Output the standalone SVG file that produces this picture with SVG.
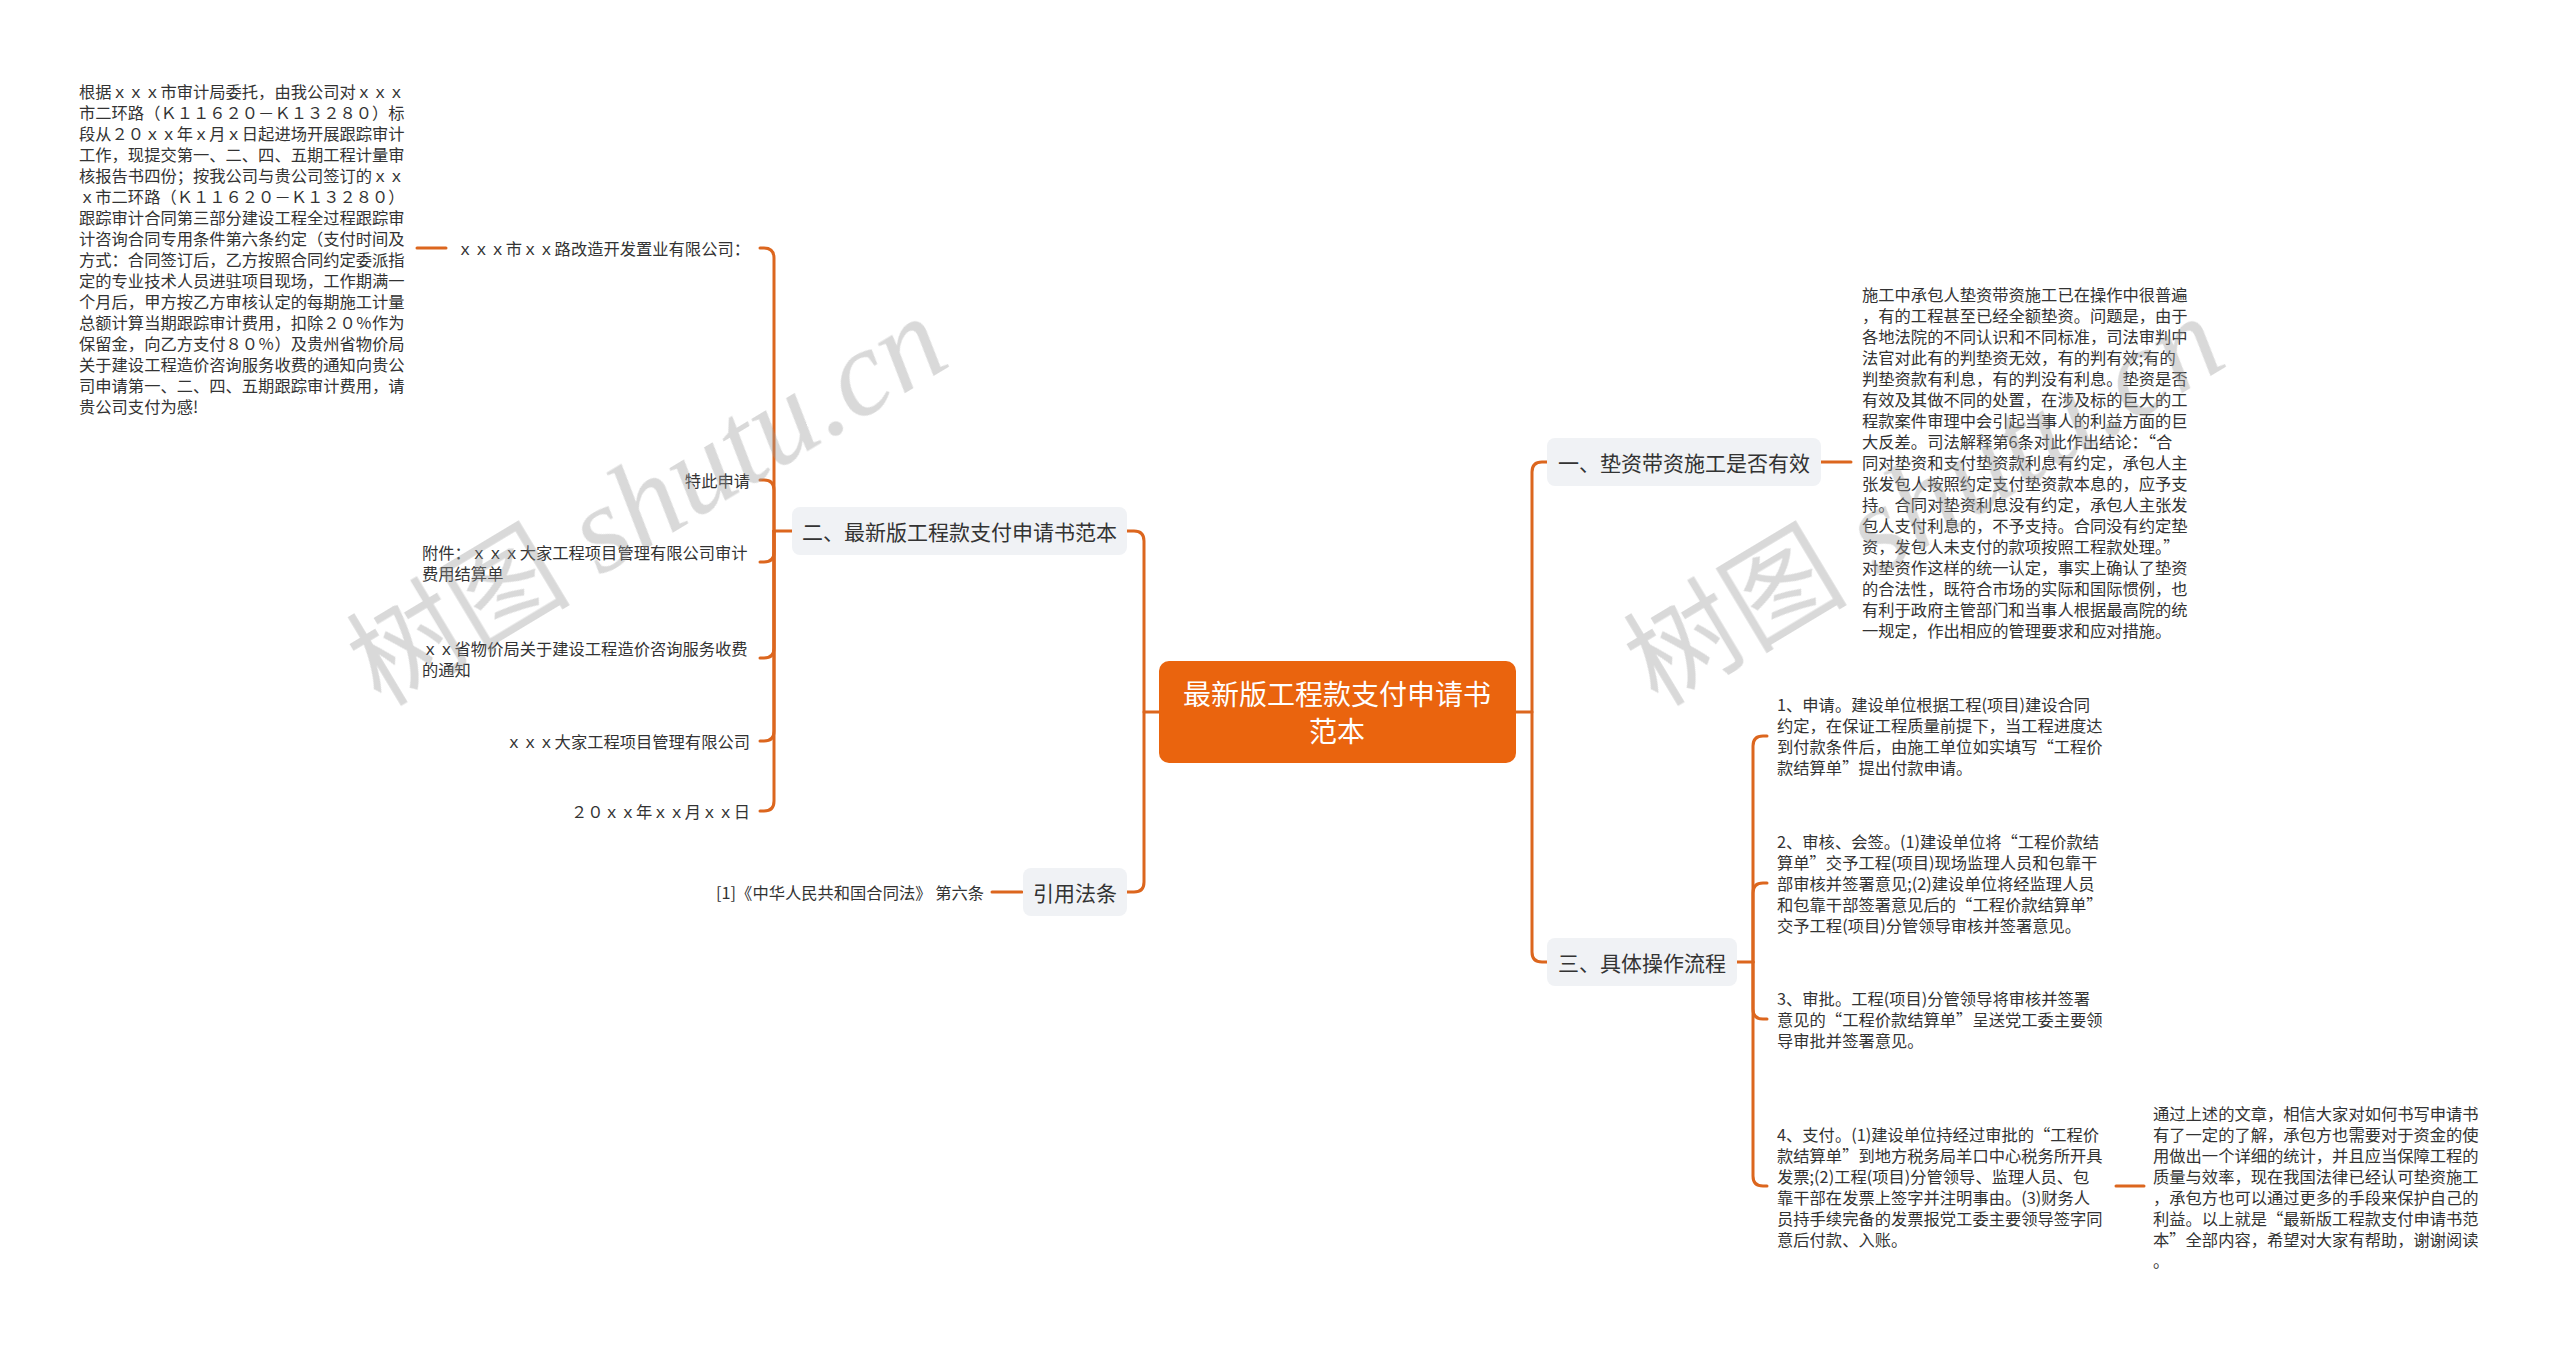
<svg xmlns="http://www.w3.org/2000/svg" width="2560" height="1350" viewBox="0 0 2560 1350">
<style>
.conn{fill:none;stroke:#DC661E;stroke-width:3;stroke-linecap:round;stroke-linejoin:round}
.t{font-family:"Noto Sans CJK SC","Noto Sans",sans-serif;font-size:16.3px;fill:#333;dominant-baseline:central}
.l1{font-family:"Noto Sans CJK SC","Noto Sans",sans-serif;font-size:21px;fill:#333;dominant-baseline:central;text-anchor:middle}
.box{fill:#F0F2F5}
.root{fill:#EA640E}
.rt{font-family:"Noto Sans CJK SC","Noto Sans",sans-serif;font-size:28px;fill:#fff;dominant-baseline:central;text-anchor:middle}
.end{text-anchor:end}
.wm{fill:#9a9a9a;opacity:0.38}
.wmc{font-family:"Noto Sans CJK SC",sans-serif;font-size:112px}
.wml{font-family:"Liberation Serif",serif;font-style:italic;font-size:123px}
</style>
<rect width="2560" height="1350" fill="#fff"/>
<g id="connectors">
<path class="conn" d="M1159,712 H1144 V541 Q1144,531 1134,531 H1127"/>
<path class="conn" d="M1144,712 V882 Q1144,892 1134,892 H1127"/>
<path class="conn" d="M1516,712 H1532 V472 Q1532,462 1542,462 H1547"/>
<path class="conn" d="M1532,712 V952 Q1532,962 1542,962 H1547"/>
<path class="conn" d="M792,531 H774"/>
<path class="conn" d="M774,531 V258 Q774,248 764,248 H760"/>
<path class="conn" d="M774,531 V490 Q774,480 764,480 H760"/>
<path class="conn" d="M774,531 V552 Q774,562 764,562 H760"/>
<path class="conn" d="M774,531 V648 Q774,658 764,658 H760"/>
<path class="conn" d="M774,531 V731 Q774,741 764,741 H760"/>
<path class="conn" d="M774,531 V801 Q774,811 764,811 H760"/>
<path class="conn" d="M446,248 H417"/>
<path class="conn" d="M1022,892 H992"/>
<path class="conn" d="M1821,462 H1851"/>
<path class="conn" d="M1737,962 H1753"/>
<path class="conn" d="M1753,962 V746 Q1753,736 1763,736 H1767"/>
<path class="conn" d="M1753,962 V893 Q1753,883 1763,883 H1767"/>
<path class="conn" d="M1753,962 V1009 Q1753,1019 1763,1019 H1767"/>
<path class="conn" d="M1753,962 V1176 Q1753,1186 1763,1186 H1767"/>
<path class="conn" d="M2116,1186 H2144"/>
</g>
<g id="root">
<rect class="root" x="1159" y="661" width="357" height="102" rx="10"/>
<text class="rt" x="1337" y="693">最新版工程款支付申请书</text>
<text class="rt" x="1337" y="730">范本</text>
</g>
<g id="n2">
<rect class="box" x="792" y="507" width="335" height="48" rx="8"/>
<text class="l1" x="959.5" y="531">二、最新版工程款支付申请书范本</text>
</g>
<g id="nlaw">
<rect class="box" x="1023" y="868" width="104" height="48" rx="8"/>
<text class="l1" x="1075" y="892">引用法条</text>
</g>
<g id="n1">
<rect class="box" x="1547" y="438" width="274" height="48" rx="8"/>
<text class="l1" x="1684" y="462">一、垫资带资施工是否有效</text>
</g>
<g id="n3">
<rect class="box" x="1547" y="938" width="190" height="48" rx="8"/>
<text class="l1" x="1642" y="962">三、具体操作流程</text>
</g>
<g id="n2-company">
<text class="t end" x="750" y="248">ｘｘｘ市ｘｘ路改造开发置业有限公司：</text>
</g>
<g id="n2-letter">
<text class="t" x="79"><tspan x="79" y="90.5">根据ｘｘｘ市审计局委托，由我公司对ｘｘｘ</tspan><tspan x="79" y="111.5">市二环路（Ｋ１１６２０－Ｋ１３２８０）标</tspan><tspan x="79" y="132.5">段从２０ｘｘ年ｘ月ｘ日起进场开展跟踪审计</tspan><tspan x="79" y="153.5">工作，现提交第一、二、四、五期工程计量审</tspan><tspan x="79" y="174.5">核报告书四份；按我公司与贵公司签订的ｘｘ</tspan><tspan x="79" y="195.5">ｘ市二环路（Ｋ１１６２０－Ｋ１３２８０）</tspan><tspan x="79" y="216.5">跟踪审计合同第三部分建设工程全过程跟踪审</tspan><tspan x="79" y="237.5">计咨询合同专用条件第六条约定（支付时间及</tspan><tspan x="79" y="258.5">方式：合同签订后，乙方按照合同约定委派指</tspan><tspan x="79" y="279.5">定的专业技术人员进驻项目现场，工作期满一</tspan><tspan x="79" y="300.5">个月后，甲方按乙方审核认定的每期施工计量</tspan><tspan x="79" y="321.5">总额计算当期跟踪审计费用，扣除２０％作为</tspan><tspan x="79" y="342.5">保留金，向乙方支付８０％）及贵州省物价局</tspan><tspan x="79" y="363.5">关于建设工程造价咨询服务收费的通知向贵公</tspan><tspan x="79" y="384.5">司申请第一、二、四、五期跟踪审计费用，请</tspan><tspan x="79" y="405.5">贵公司支付为感!</tspan></text>
</g>
<g id="n2-apply"><text class="t end" x="750" y="480">特此申请</text></g>
<g id="n2-attach"><text class="t"><tspan x="422" y="552">附件：ｘｘｘ大家工程项目管理有限公司审计</tspan><tspan x="422" y="573">费用结算单</tspan></text></g>
<g id="n2-notice"><text class="t"><tspan x="422" y="648">ｘｘ省物价局关于建设工程造价咨询服务收费</tspan><tspan x="422" y="669">的通知</tspan></text></g>
<g id="n2-firm"><text class="t end" x="750" y="741">ｘｘｘ大家工程项目管理有限公司</text></g>
<g id="n2-date"><text class="t end" x="750" y="811">２０ｘｘ年ｘｘ月ｘｘ日</text></g>
<g id="nlaw-1"><text class="t end" x="984" y="892">[1]《中华人民共和国合同法》 第六条</text></g>
<g id="n1-text">
<text class="t"><tspan x="1862" y="294">施工中承包人垫资带资施工已在操作中很普遍</tspan><tspan x="1862" y="315">，有的工程甚至已经全额垫资。问题是，由于</tspan><tspan x="1862" y="336">各地法院的不同认识和不同标准，司法审判中</tspan><tspan x="1862" y="357">法官对此有的判垫资无效，有的判有效;有的</tspan><tspan x="1862" y="378">判垫资款有利息，有的判没有利息。垫资是否</tspan><tspan x="1862" y="399">有效及其做不同的处置，在涉及标的巨大的工</tspan><tspan x="1862" y="420">程款案件审理中会引起当事人的利益方面的巨</tspan><tspan x="1862" y="441">大反差。司法解释第6条对此作出结论：“合</tspan><tspan x="1862" y="462">同对垫资和支付垫资款利息有约定，承包人主</tspan><tspan x="1862" y="483">张发包人按照约定支付垫资款本息的，应予支</tspan><tspan x="1862" y="504">持。合同对垫资利息没有约定，承包人主张发</tspan><tspan x="1862" y="525">包人支付利息的，不予支持。合同没有约定垫</tspan><tspan x="1862" y="546">资，发包人未支付的款项按照工程款处理。”</tspan><tspan x="1862" y="567">对垫资作这样的统一认定，事实上确认了垫资</tspan><tspan x="1862" y="588">的合法性，既符合市场的实际和国际惯例，也</tspan><tspan x="1862" y="609">有利于政府主管部门和当事人根据最高院的统</tspan><tspan x="1862" y="630">一规定，作出相应的管理要求和应对措施。</tspan></text>
</g>
<g id="n3-1"><text class="t"><tspan x="1777" y="704">1、申请。建设单位根据工程(项目)建设合同</tspan><tspan x="1777" y="725">约定，在保证工程质量前提下，当工程进度达</tspan><tspan x="1777" y="746">到付款条件后，由施工单位如实填写“工程价</tspan><tspan x="1777" y="767">款结算单”提出付款申请。</tspan></text></g>
<g id="n3-2"><text class="t"><tspan x="1777" y="841">2、审核、会签。(1)建设单位将“工程价款结</tspan><tspan x="1777" y="862">算单”交予工程(项目)现场监理人员和包靠干</tspan><tspan x="1777" y="883">部审核并签署意见;(2)建设单位将经监理人员</tspan><tspan x="1777" y="904">和包靠干部签署意见后的“工程价款结算单”</tspan><tspan x="1777" y="925">交予工程(项目)分管领导审核并签署意见。</tspan></text></g>
<g id="n3-3"><text class="t"><tspan x="1777" y="998">3、审批。工程(项目)分管领导将审核并签署</tspan><tspan x="1777" y="1019">意见的“工程价款结算单”呈送党工委主要领</tspan><tspan x="1777" y="1040">导审批并签署意见。</tspan></text></g>
<g id="n3-4"><text class="t"><tspan x="1777" y="1133.5">4、支付。(1)建设单位持经过审批的“工程价</tspan><tspan x="1777" y="1154.5">款结算单”到地方税务局羊口中心税务所开具</tspan><tspan x="1777" y="1175.5">发票;(2)工程(项目)分管领导、监理人员、包</tspan><tspan x="1777" y="1196.5">靠干部在发票上签字并注明事由。(3)财务人</tspan><tspan x="1777" y="1217.5">员持手续完备的发票报党工委主要领导签字同</tspan><tspan x="1777" y="1238.5">意后付款、入账。</tspan></text></g>
<g id="n3-4-1"><text class="t"><tspan x="2153" y="1112.5">通过上述的文章，相信大家对如何书写申请书</tspan><tspan x="2153" y="1133.5">有了一定的了解，承包方也需要对于资金的使</tspan><tspan x="2153" y="1154.5">用做出一个详细的统计，并且应当保障工程的</tspan><tspan x="2153" y="1175.5">质量与效率，现在我国法律已经认可垫资施工</tspan><tspan x="2153" y="1196.5">，承包方也可以通过更多的手段来保护自己的</tspan><tspan x="2153" y="1217.5">利益。以上就是“最新版工程款支付申请书范</tspan><tspan x="2153" y="1238.5">本”全部内容，希望对大家有帮助，谢谢阅读</tspan><tspan x="2153" y="1259.5">。</tspan></text></g>
<g id="watermarks" class="wm">
<text transform="translate(381,708) rotate(-31)"><tspan class="wmc">树图</tspan><tspan class="wml"> shutu.cn</tspan></text>
<text transform="translate(1658,708) rotate(-31)"><tspan class="wmc">树图</tspan><tspan class="wml"> shutu.cn</tspan></text>
</g>
</svg>
